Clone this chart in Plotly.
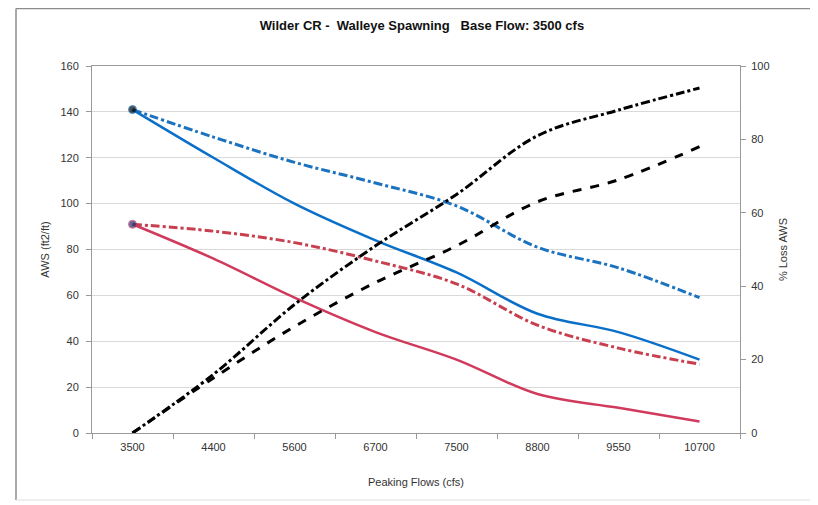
import plotly.graph_objects as go

categories = ["3500", "4400", "5600", "6700", "7500", "8800", "9550", "10700"]
aws_blue_solid = [141, 120, 100, 84, 70, 52, 44, 32]
aws_red_solid = [91, 76, 59, 44, 32, 17, 11, 5]
aws_blue_dashdot = [141, 129, 118, 109, 99, 81, 72, 59]
aws_red_dashdot = [91, 88, 83, 75, 65, 47, 37, 30]
loss_dashdot = [0, 16, 35, 51, 65, 81, 88, 94]
loss_dashed = [0, 15, 29, 41, 51, 63, 69, 78]

FONT = "Liberation Sans, Arial, sans-serif"
first_marker = [8] + [0] * (len(categories) - 1)

# page body has an 8px margin, so the figure is shrunk by 8px and offsets reduced by 8
FIG_W, FIG_H = 810, 497
ML, MR, MT, MB = 84, 78, 58, 72

fig = go.Figure()

fig.add_trace(go.Scatter(x=categories, y=aws_blue_dashdot, mode="lines",
                         line=dict(color="#1B72BE", width=3, dash="dashdot", shape="spline"),
                         showlegend=False))
fig.add_trace(go.Scatter(x=categories, y=aws_red_dashdot, mode="lines",
                         line=dict(color="#C8404F", width=3, dash="dashdot", shape="spline"),
                         showlegend=False))
fig.add_trace(go.Scatter(x=categories, y=loss_dashdot, mode="lines", yaxis="y2",
                         line=dict(color="#000000", width=3, dash="dashdot", shape="spline"),
                         showlegend=False))
fig.add_trace(go.Scatter(x=categories, y=loss_dashed, mode="lines", yaxis="y2",
                         line=dict(color="#000000", width=3, dash="dash", shape="spline"),
                         showlegend=False))
fig.add_trace(go.Scatter(x=categories, y=aws_blue_solid, mode="lines+markers",
                         line=dict(color="#0A6FC8", width=2.5, shape="spline"),
                         marker=dict(size=first_marker, color="#000000"),
                         showlegend=False))
fig.add_trace(go.Scatter(x=categories, y=aws_red_solid, mode="lines+markers",
                         line=dict(color="#D03A5C", width=2.5, shape="spline"),
                         marker=dict(size=first_marker, color="#1F2F6F"),
                         showlegend=False))

fig.update_layout(
    width=FIG_W, height=FIG_H,
    margin=dict(l=ML, r=MR, t=MT, b=MB),
    paper_bgcolor="white", plot_bgcolor="white",
    font=dict(family=FONT, size=11, color="#333333"),
    title=dict(text="<b>Wilder CR -\u00a0 Walleye Spawning \u00a0 Base Flow: 3500 cfs</b>",
               x=0.511, xanchor="center", y=1 - 17 / FIG_H, yanchor="middle",
               font=dict(family=FONT, size=13, color="#111111")),
    xaxis=dict(type="category", range=[-0.5, 7.5], showgrid=False,
               ticks="outside", tickson="boundaries", ticklen=5, tickcolor="#999999",
               showline=True, linecolor="#999999", linewidth=1, mirror=True,
               ticklabelstandoff=4,
               tickfont=dict(size=11, color="#333333"),
               title=dict(text="Peaking Flows (cfs)", standoff=26,
                          font=dict(size=11, color="#333333"))),
    yaxis=dict(range=[0, 160], dtick=20, showgrid=True, gridcolor="#D9D9D9", gridwidth=1,
               ticks="outside", ticklen=5, tickcolor="#999999",
               showline=True, linecolor="#999999", linewidth=1, zeroline=False,
               ticklabelstandoff=5,
               tickfont=dict(size=11, color="#333333"),
               title=dict(text="AWS (ft2/ft)", standoff=8,
                          font=dict(size=11, color="#333333"))),
    yaxis2=dict(range=[0, 100], dtick=20, overlaying="y", side="right", showgrid=False,
                ticks="outside", ticklen=5, tickcolor="#999999",
                showline=True, linecolor="#999999", linewidth=1, zeroline=False,
                ticklabelstandoff=3,
                tickfont=dict(size=11, color="#333333"),
                title=dict(text="% Loss AWS", standoff=10,
                           font=dict(size=11, color="#333333"))),
)

# outer chart frame (left, top, bottom edges), positions in figure pixels
W_PLOT = FIG_W - ML - MR
H_PLOT = FIG_H - MT - MB
def px_x(px):
    return (px - ML) / W_PLOT
def px_y(py):
    return (FIG_H - MB - py) / H_PLOT

fig.add_shape(type="line", xref="paper", yref="paper",
              x0=px_x(8), x1=px_x(8), y0=px_y(0.5), y1=px_y(492),
              line=dict(color="#8C8C8C", width=1.5))
fig.add_shape(type="line", xref="paper", yref="paper",
              x0=px_x(8), x1=px_x(FIG_W), y0=px_y(0.5), y1=px_y(0.5),
              line=dict(color="#8C8C8C", width=1.5))
fig.add_shape(type="line", xref="paper", yref="paper",
              x0=px_x(8), x1=px_x(FIG_W), y0=px_y(492), y1=px_y(492),
              line=dict(color="#E0E0E0", width=1))

fig.write_html("out.html")
